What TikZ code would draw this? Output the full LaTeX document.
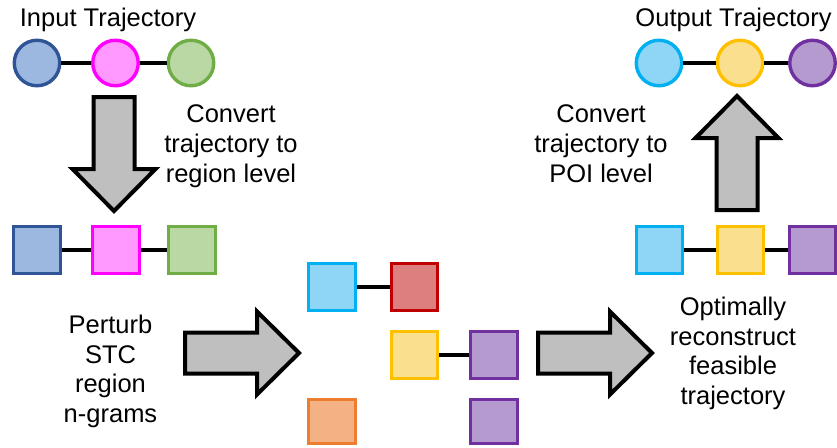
\documentclass[tikz,border=0pt]{standalone}
\usepackage{fontspec}
\setmainfont{Liberation Sans}
\usetikzlibrary{positioning}

% fills and outlines of the places
\definecolor{blueF}{HTML}{9CB8E0}   \definecolor{blueD}{HTML}{2F5597}
\definecolor{pinkF}{HTML}{FF99FF}   \definecolor{pinkD}{HTML}{FF00FF}
\definecolor{greenF}{HTML}{B9D8A4}  \definecolor{greenD}{HTML}{70AD47}
\definecolor{skyF}{HTML}{8FD6F6}    \definecolor{skyD}{HTML}{00B0F0}
\definecolor{redF}{HTML}{DD7F7F}    \definecolor{redD}{HTML}{C00000}
\definecolor{yellowF}{HTML}{F9DF8E} \definecolor{yellowD}{HTML}{FFC000}
\definecolor{purpleF}{HTML}{B59AD0} \definecolor{purpleD}{HTML}{7030A0}
\definecolor{orangeF}{HTML}{F4B183} \definecolor{orangeD}{HTML}{ED7D31}
\definecolor{arrowF}{HTML}{BFBFBF}

\tikzset{
  poi/.style={circle, draw=#1D, fill=#1F, line width=3.4pt, minimum size=45.5pt, inner sep=0pt},
  region/.style={rectangle, draw=#1D, fill=#1F, line width=3.4pt, minimum size=46.5pt, inner sep=0pt},
  lowregion/.style={region=#1, minimum height=43.5pt},
  link/.style={line width=3.4pt, black},
  label/.style={font=\fontsize{25.5}{29.8}\selectfont, align=center, inner sep=0pt, text=black},
  blockarrow/.pic={
    \draw[line width=4pt, fill=arrowF, line join=miter]
      (0,-20.5) -- (72,-20.5) -- (72,-41.5) -- (114,0) -- (72,41.5) -- (72,20.5) -- (0,20.5) -- cycle;
  }
}

\begin{document}
\begin{tikzpicture}[x=1pt, y=-1pt]
\useasboundingbox (0,0) rectangle (837,447);

% input trajectory (POIs)
\node[label, anchor=base] (intitle) at (108,27) {Input Trajectory};
\node[poi=blue]  (p1) at (37,63) {};
\node[poi=pink]  (p2) at (115.5,63) {};
\node[poi=green] (p3) at (191,63) {};
\draw[link] (p1) -- (p2);
\draw[link] (p2) -- (p3);

% conversion to regions
\pic at (114,97) [rotate=-90] {blockarrow};
\node[label, anchor=north] (conv1) at (231,104.7) {Convert\\trajectory to\\region level};

\node[region=blue]  (r1) at (37,250) {};
\node[region=pink]  (r2) at (116,250) {};
\node[region=green] (r3) at (192,250) {};
\draw[link] (r1) -- (r2);
\draw[link] (r2) -- (r3);

% perturbation
\node[label, anchor=north] (pert) at (110.5,314.7) {Perturb\\STC\\region\\n-grams};
\pic at (185,353) {blockarrow};

\node[region=sky]      (m1) at (332,287) {};
\node[region=red]      (m2) at (414.5,287) {};
\node[region=yellow]   (m3) at (414.5,355) {};
\node[region=purple]   (m4) at (494,355) {};
\node[lowregion=orange] (m5) at (332,421.5) {};
\node[lowregion=purple] (m6) at (494,421.5) {};
\draw[link] (m1) -- (m2);
\draw[link] (m3) -- (m4);

% reconstruction
\pic at (538,353) {blockarrow};
\node[label, anchor=north] (recon) at (733,296.7) {Optimally\\reconstruct\\feasible\\trajectory};

\node[region=sky]    (s1) at (659.5,250) {};
\node[region=yellow] (s2) at (740.5,250) {};
\node[region=purple] (s3) at (812.5,250) {};
\draw[link] (s1) -- (s2);
\draw[link] (s2) -- (s3);

% conversion back to POIs
\pic at (737,210) [rotate=90] {blockarrow};
\node[label, anchor=north] (conv2) at (601,104.7) {Convert\\trajectory to\\POI level};

\node[label, anchor=base] (outtitle) at (733.5,27) {Output Trajectory};
\node[poi=sky]    (q1) at (659,63) {};
\node[poi=yellow] (q2) at (740,63) {};
\node[poi=purple] (q3) at (812.5,63) {};
\draw[link] (q1) -- (q2);
\draw[link] (q2) -- (q3);
\end{tikzpicture}
\end{document}
